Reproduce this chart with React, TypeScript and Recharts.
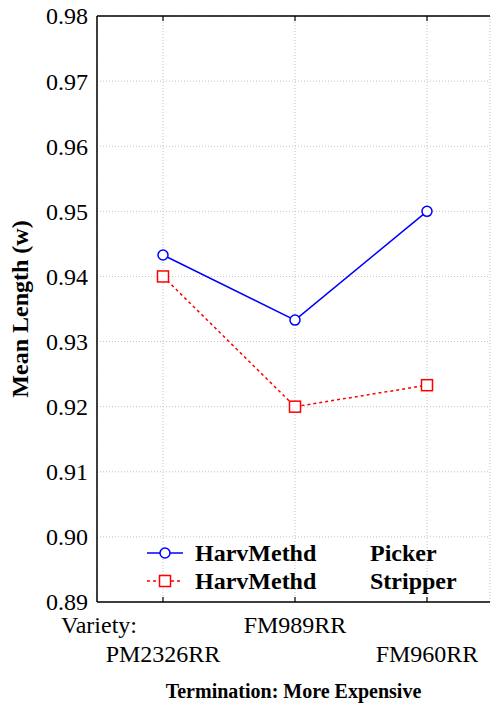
import { LineChart, Line, XAxis, YAxis, CartesianGrid, Legend } from 'recharts';

// means by variety for each harvest method
const varieties = ['PM2326RR', 'FM989RR', 'FM960RR'];
const pickerMeans = [0.9433, 0.9333, 0.95];
const stripperMeans = [0.94, 0.92, 0.9233];
const yTicks = [0.89, 0.9, 0.91, 0.92, 0.93, 0.94, 0.95, 0.96, 0.97, 0.98];

const factorName = 'HarvMethd';
const levels = ['Picker', 'Stripper'];
const colors = ['#0000ff', '#ff0000'];

const data = varieties.map((variety, i) => ({
  variety,
  Picker: pickerMeans[i],
  Stripper: stripperMeans[i],
}));

const FONT =
  "'Liberation Serif', 'DejaVu Serif', 'Noto Serif', Tinos, 'Times New Roman', Times, FreeSerif, serif";
const X_PADDING = { left: 66, right: 63 };

function LeftTick({ x, y, payload }: any) {
  return (
    <text x={x} y={y} dy="0.35em" textAnchor="end" style={{ fontFamily: FONT }} fontSize={24} fill="#000">
      {Number(payload.value).toFixed(2)}
    </text>
  );
}

function RightTick({ x, y }: any) {
  return <line x1={x - 5} y1={y} x2={x} y2={y} stroke="#000" strokeWidth={1.2} />;
}

function TopTick({ x, y }: any) {
  return <line x1={x} y1={y} x2={x} y2={y + 5} stroke="#000" strokeWidth={1.2} />;
}

// category labels alternate between two rows
function BottomTick({ x, y, payload, index }: any) {
  return (
    <g style={{ fontFamily: FONT }} fontSize={24} fill="#000">
      <line x1={x} y1={y} x2={x} y2={y - 5} stroke="#000" strokeWidth={1.2} />
      {index === 0 && (
        <text x={x - 26} y={y + 31} textAnchor="end">
          Variety:
        </text>
      )}
      <text x={x} y={y + (index % 2 ? 31 : 60)} textAnchor="middle">
        {payload.value}
      </text>
    </g>
  );
}

function SquareDot({ cx, cy, stroke }: any) {
  if (cx == null || cy == null) return null;
  return <rect x={cx - 5.5} y={cy - 5.5} width={11} height={11} fill="#fff" stroke={stroke} strokeWidth={1.5} />;
}

function LegendSymbol({ index }: { index: number }) {
  const color = colors[index];
  return (
    <svg width={48} height={28} style={{ position: 'absolute', left: 0, top: 0 }}>
      <line
        x1={6}
        y1={14}
        x2={42}
        y2={14}
        stroke={color}
        strokeWidth={1.5}
        strokeDasharray={index === 1 ? '3 3' : undefined}
      />
      {index === 0 ? (
        <circle cx={24} cy={14} r={5} fill="#fff" stroke={color} strokeWidth={1.5} />
      ) : (
        <rect x={18.5} y={8.5} width={11} height={11} fill="#fff" stroke={color} strokeWidth={1.5} />
      )}
    </svg>
  );
}

function LegendContent() {
  return (
    <div style={{ fontFamily: FONT, fontSize: 24, fontWeight: 'bold', color: '#000' }}>
      {levels.map((level, i) => (
        <div key={level} style={{ position: 'relative', height: 28, lineHeight: '28px', width: 340 }}>
          <LegendSymbol index={i} />
          <span style={{ position: 'absolute', left: 54, top: 0 }}>{factorName}</span>
          <span style={{ position: 'absolute', left: 229, top: 0 }}>{level}</span>
        </div>
      ))}
    </div>
  );
}

export default function App() {
  return (
    <div style={{ position: 'absolute', left: 0, top: 0, width: 491, height: 711, background: '#fff' }}>
      <LineChart width={491} height={711} data={data} margin={{ top: 15, right: 0, left: 0, bottom: 0 }}>
        <CartesianGrid stroke="#c4c4c4" strokeDasharray="1 2" />
        <XAxis
          dataKey="variety"
          height={109}
          interval={0}
          padding={X_PADDING}
          axisLine={{ stroke: '#000', strokeWidth: 1.5 }}
          tickLine={false}
          tickSize={0}
          tickMargin={0}
          tick={<BottomTick />}
          label={(props: any) => {
            const vb = props.viewBox || {};
            return (
              <text
                x={vb.x + vb.width / 2}
                y={698}
                textAnchor="middle"
                style={{ fontFamily: FONT }}
                fontSize={20}
                fontWeight="bold"
              >
                Termination: More Expensive
              </text>
            );
          }}
        />
        <XAxis
          xAxisId="top"
          dataKey="variety"
          orientation="top"
          height={1}
          interval={0}
          padding={X_PADDING}
          axisLine={{ stroke: '#000', strokeWidth: 1.5 }}
          tickLine={false}
          tickSize={0}
          tickMargin={0}
          tick={<TopTick />}
        />
        <YAxis
          width={97}
          domain={[0.89, 0.98]}
          ticks={yTicks}
          interval={0}
          allowDataOverflow
          axisLine={{ stroke: '#000', strokeWidth: 1.5 }}
          tickLine={false}
          tickSize={0}
          tickMargin={9}
          tick={<LeftTick />}
          label={(props: any) => {
            const vb = props.viewBox || {};
            const cy = vb.y + vb.height / 2;
            return (
              <text
                x={20}
                y={cy}
                transform={`rotate(-90, 20, ${cy})`}
                textAnchor="middle"
                dominantBaseline="central"
                style={{ fontFamily: FONT }}
                fontSize={24}
                fontWeight="bold"
              >
                Mean Length (w)
              </text>
            );
          }}
        />
        <YAxis
          yAxisId="right"
          orientation="right"
          width={1}
          domain={[0.89, 0.98]}
          ticks={yTicks}
          interval={0}
          axisLine={false}
          tickLine={false}
          tickSize={0}
          tickMargin={0}
          tick={<RightTick />}
        />
        <Legend
          layout="vertical"
          align="center"
          verticalAlign="middle"
          content={<LegendContent />}
          wrapperStyle={{ position: 'absolute', left: 141, top: 539, width: 340 }}
        />
        <Line
          dataKey="Picker"
          name={`${factorName} ${levels[0]}`}
          stroke={colors[0]}
          strokeWidth={1.5}
          dot={{ r: 5, fill: '#fff', stroke: colors[0], strokeWidth: 1.5 }}
          isAnimationActive={false}
        />
        <Line
          dataKey="Stripper"
          name={`${factorName} ${levels[1]}`}
          stroke={colors[1]}
          strokeWidth={1.5}
          strokeDasharray="3 3"
          dot={<SquareDot />}
          isAnimationActive={false}
        />
      </LineChart>
    </div>
  );
}
